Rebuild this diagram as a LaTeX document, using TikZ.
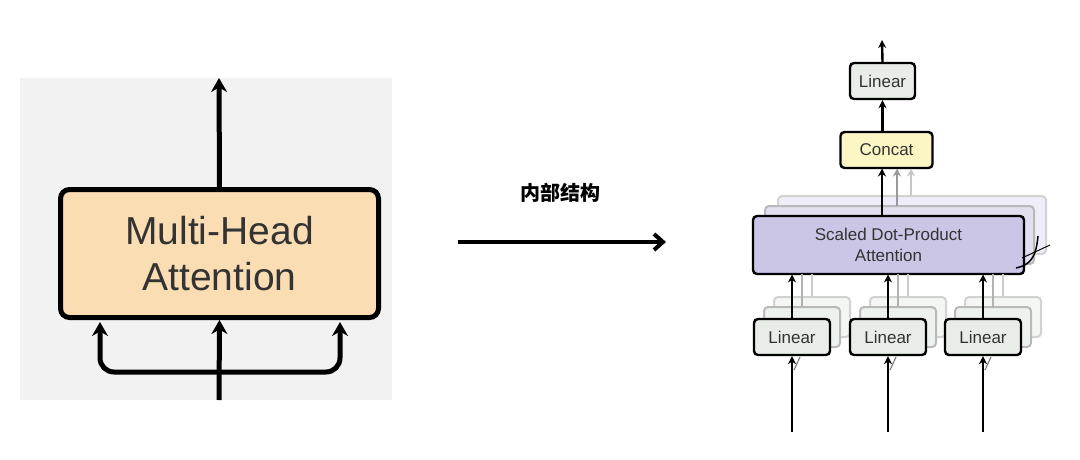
\documentclass[tikz,border=0pt]{standalone}
\usepackage{fontspec}
\setmainfont{Liberation Sans}
\newfontfamily\cjk{Noto Sans CJK SC}
\usetikzlibrary{arrows.meta}
\definecolor{peach}{HTML}{FBDDB4}
\definecolor{lav}{HTML}{CBC5E6}
\definecolor{lyel}{HTML}{FBF6C4}
\definecolor{lgry}{HTML}{E8EDE8}
\definecolor{txt}{HTML}{333333}
\begin{document}
\begin{tikzpicture}[x=1pt,y=-1pt,
  big/.style={draw=black,line width=5pt,rounded corners=9pt,fill=peach,minimum width=318pt,minimum height=128pt,align=center,text=txt,font=\fontsize{39}{46}\selectfont},
  bx/.style={draw=black,line width=2.4pt,rounded corners=4pt,fill=lgry,minimum height=36pt,text=txt,font=\fontsize{17}{20}\selectfont,inner sep=2pt},
  sh/.style={draw=gray!55,line width=2pt,rounded corners=4pt,fill=gray!8},
  arr/.style={line width=2.4pt,-{Stealth[length=8pt,width=8pt]}},
  barr/.style={line width=5pt,-{Stealth[length=14pt,width=16pt]}}]
\useasboundingbox (0,0) rectangle (1080,459);
\fill[white] (0,0) rectangle (1080,459);
% left
\fill[gray!10] (20,78) rectangle (392,400);
\node[big] (mha) at (219.5,253.5) {Multi-Head\\Attention};
\coordinate (top) at (219,78);
\coordinate (in) at (219,400);
\draw[barr] (mha.north) -- (top);
\draw[barr] (in) -- (mha.south);
\draw[line width=5pt,rounded corners=14pt,-{Stealth[length=14pt,width=16pt]}] (219,372) -- (100,372) -- (100,322);
\draw[line width=5pt,rounded corners=14pt,-{Stealth[length=14pt,width=16pt]}] (219,372) -- (340,372) -- (340,322);
% middle
\coordinate (a1) at (458,242); \coordinate (a2) at (666,242);
\draw[line width=4pt,-{Straight Barb[length=9pt,width=16pt]}] (a1) -- (a2);
\node[font=\cjk\bfseries\fontsize{20}{24}\selectfont] (lab) at (560,193) {内部结构};
% right: attention stack shadows
\draw[sh,draw=gray!35,fill=lav!30] (778,196) rectangle (1046,254);
\draw[sh,fill=lav!55] (765,206) rectangle (1034,264);
\node[bx,fill=lav,minimum width=271pt,minimum height=58pt,align=center,font=\fontsize{17}{21}\selectfont] (att) at (888.5,245) {Scaled Dot-Product\\Attention};
\draw[line width=1.5pt] (1016,268) .. controls (1030,265) and (1036,258) .. (1038,236);
\draw[line width=1pt] (1022,258) -- (1050,245);
% concat and linear
\node[bx,fill=lyel,minimum width=92pt] (cc) at (886.5,150) {Concat};
\node[bx,minimum width=65pt] (lt) at (882.5,81) {Linear};
\coordinate (out) at (882,40);
\draw[arr] (lt.north) -- (out);
\draw[arr] (cc.north -| lt) -- (lt.south);
\draw[arr] (882,216) -- (882,168.5);
\draw[arr,draw=gray!80] (897,206) -- (897,168.5);
\draw[arr,draw=gray!45] (911,196) -- (911,168.5);
% bottom linears
\foreach \i/\x in {1/792,2/888,3/983}{
  \draw[sh,draw=gray!35,fill=lgry!50] (\x-18,297) rectangle (\x+58,337);
  \draw[sh,fill=lgry!75] (\x-28,307) rectangle (\x+48,347);
  \draw[line width=2pt,draw=gray!40] (\x+20,297) -- (\x+20,274);
  \draw[line width=2pt,draw=gray!60] (\x+10,307) -- (\x+10,274);
  \node[bx,minimum width=76pt] (l\i) at (\x,337) {Linear};
  \coordinate (i\i) at (\x,432);
  \draw[arr] (i\i) -- (l\i.south);
  \draw[line width=1.2pt,draw=gray] (\x+2,370) -- (\x+8,357);
  \draw[arr] (l\i.north) -- (\x,274.5);
}
\end{tikzpicture}
\end{document}
